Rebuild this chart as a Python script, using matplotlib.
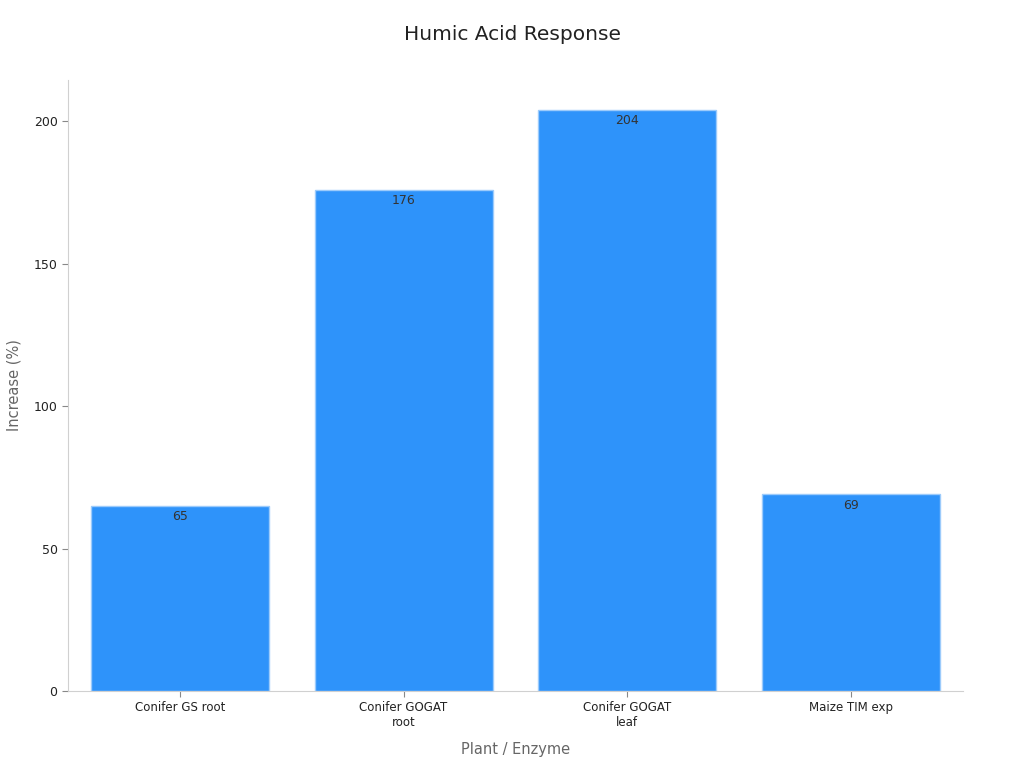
import matplotlib
matplotlib.use("Agg")
import matplotlib.pyplot as plt

categories = ["Conifer GS root", "Conifer GOGAT\nroot", "Conifer GOGAT\nleaf", "Maize TIM exp"]
values = [65, 176, 204, 69]

fig = plt.figure(figsize=(10.24, 7.68), dpi=100)
ax = fig.add_axes([0.0664, 0.1003, 0.874, 0.7955])

x = range(len(categories))
bars = ax.bar(x, values, width=0.795, color="#2E93FA", edgecolor="#9ccbfb", linewidth=1)
for b, v in zip(bars, values):
    ax.annotate(str(v), (b.get_x() + b.get_width() / 2, v), xytext=(0, -3),
                textcoords="offset points", ha="center", va="top",
                fontsize=9, color="#333333")

ax.set_xlim(-0.5, 3.5)
ax.set_ylim(0, 214.5)
ax.set_xticks(list(x))
ax.set_xticklabels(categories, fontsize=8.5, color="#222222")
ax.set_yticks([0, 50, 100, 150, 200])
ax.tick_params(axis="y", labelsize=9, colors="#222222", length=4, color="#888888")
ax.tick_params(axis="x", length=4, color="#888888")
for s in ["top", "right"]:
    ax.spines[s].set_visible(False)
for s in ["left", "bottom"]:
    ax.spines[s].set_color("#d0d0d0")

ax.set_xlabel("Plant / Enzyme", fontsize=10.5, color="#666666", labelpad=9)
ax.set_ylabel("Increase (%)", fontsize=10.5, color="#666666", labelpad=9)
fig.suptitle("Humic Acid Response", fontsize=14.5, color="#222222", y=0.968)

fig.savefig("out.png", dpi=100)
